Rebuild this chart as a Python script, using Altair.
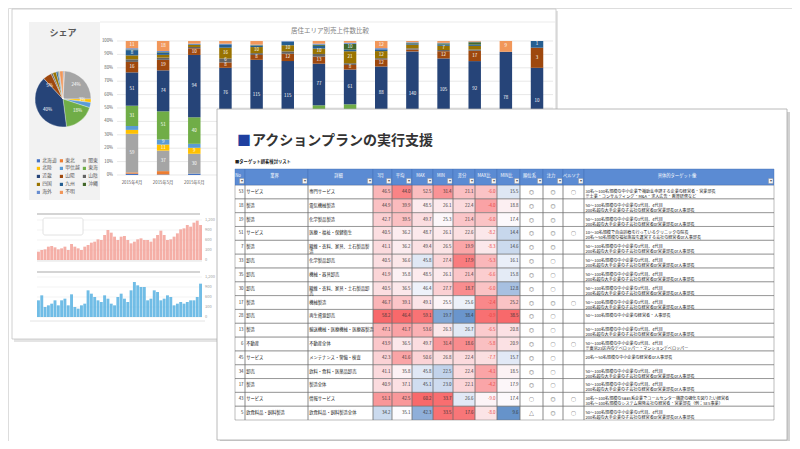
import altair as alt
import pandas as pd
import numpy as np

FONT = "Noto Sans CJK JP"

# ---------------- data ----------------
REGIONS = ["北海道", "東北", "関東", "北陸", "甲信越", "東海", "近畿",
           "山陽", "山陰", "四国", "九州", "沖縄", "海外", "不明"]
REGION_COLORS = ["#4472C4", "#ED7D31", "#A5A5A5", "#FFC000", "#5B9BD5", "#70AD47", "#264478",
                 "#9E480E", "#636363", "#997300", "#255E91", "#43682B", "#698ED0", "#F1975A"]
PIE_SHARE = [0.5, 0.5, 24, 2, 3, 18, 40, 5, 1, 2, 1, 0.5, 0.5, 2]

MONTHS = ["2015年4月", "2015年5月", "2015年6月", "2015年7月", "2015年8月", "2015年9月",
          "2015年10月", "2015年11月", "2015年12月", "2016年1月", "2016年2月", "2016年3月",
          "2016年4月", "2016年5月"]
SALES = {
    "2015年4月": [2, 2, 59, 6, 6, 31, 51, 16, 4, 6, 8, 1, 2, 11],
    "2015年5月": [1, 6, 37, 11, 9, 51, 74, 19, 4, 5, 4, 1, 2, 18],
    "2015年6月": [2, 0, 30, 9, 6, 40, 94, 10, 2, 3, 1, 0, 1, 4],
    "2015年7月": [2, 2, 36, 8, 6, 30, 76, 8, 6, 16, 5, 0, 1, 4],
    "2015年8月": [2, 2, 30, 6, 5, 30, 115, 8, 3, 10, 2, 1, 1, 6],
    "2015年9月": [2, 2, 28, 6, 5, 29, 115, 12, 4, 10, 6, 0, 1, 0],
    "2015年10月": [3, 3, 62, 8, 8, 45, 77, 13, 5, 10, 5, 2, 2, 5],
    "2015年11月": [3, 3, 62, 8, 8, 40, 61, 8, 3, 21, 3, 10, 2, 3],
    "2015年12月": [3, 3, 40, 8, 6, 35, 88, 12, 2, 12, 3, 0, 2, 12],
    "2016年1月": [2, 2, 25, 5, 4, 24, 140, 3, 2, 6, 2, 1, 1, 2],
    "2016年2月": [3, 3, 35, 7, 5, 36, 105, 12, 2, 7, 2, 2, 1, 3],
    "2016年3月": [3, 3, 38, 7, 6, 38, 92, 17, 2, 6, 2, 4, 1, 1],
    "2016年4月": [1, 0, 10, 2, 2, 10, 78, 0, 0, 0, 0, 0, 0, 9],
    "2016年5月": [0, 0, 3, 0, 0, 3, 10, 3, 0, 0, 1, 0, 0, 0],
}
PCT_TICKS = [0, 10, 20, 30, 40, 50, 60, 70, 80, 90, 100]

PINK = [25, 30, 32, 40, 42, 38, 32, 35, 40, 30, 48, 40, 35, 30, 40, 45, 52, 55, 62, 60,
        75, 90, 82, 70, 60, 70, 72, 60, 50, 55, 62, 65, 60, 60, 55, 65, 75, 88, 75, 60,
        62, 70, 80, 92, 95, 105, 100, 112, 118, 105]
BLUE = [50, 65, 30, 35, 40, 50, 35, 50, 55, 35, 68, 30, 25, 35, 40, 80, 70, 60, 50, 45,
        65, 55, 40, 35, 60, 70, 55, 45, 80, 105, 95, 90, 90, 50, 55, 80, 75, 50, 55, 65,
        60, 35, 40, 45, 40, 45, 50, 50, 60, 100]
SMALL_TICKS = [0, 30, 60, 90, 120]

COLS = ["No", "業界", "詳細", "3月", "平均", "MAX", "MIN", "差分", "MAX比", "MIN比",
        "順位系", "注力", "ペルソナ", "具体的ターゲット像"]
NO = [53, 18, 19, 51, 7, 33, 35, 30, 17, 28, 13, 6, 45, 34, 17, 43, 5]
INDUSTRY = ["サービス", "製造", "製造", "サービス", "製造", "卸売", "卸売", "卸売", "製造", "卸売",
            "製造", "不動産", "サービス", "卸売", "製造", "サービス", "飲食料品・飼料製造"]
DETAIL = ["専門サービス", "電気機械製造", "化学製品製造", "医療・福祉・保健衛生",
          "繊維・衣料、家具、土石製品製\n造", "化学製品卸売", "機械・器具卸売",
          "繊維・衣料、家具・土石製品卸\n売", "機械製造", "再生資源卸売",
          "輸送機械・医療機械・医療器製造", "不動産全体", "メンテナンス・警備・検査",
          "飲料・食料・医薬品卸売", "製造全体", "情報サービス", "飲食料品・飼料製造全体"]
MAR = [46.5, 44.9, 42.7, 40.5, 41.1, 40.5, 41.9, 40.5, 46.7, 58.2, 47.1, 43.9, 42.3, 41.1, 40.9, 51.1, 34.2]
AVG = [44.0, 39.9, 39.5, 36.2, 36.2, 36.6, 35.8, 36.5, 39.1, 46.4, 41.7, 36.5, 41.6, 35.8, 37.1, 42.5, 35.1]
MAXV = [52.5, 48.5, 49.7, 48.7, 49.4, 45.8, 48.5, 46.4, 49.1, 59.1, 53.6, 49.7, 50.6, 45.8, 45.1, 60.2, 42.3]
MINV = [31.4, 26.1, 25.3, 26.1, 26.5, 27.4, 26.1, 27.7, 25.5, 19.7, 26.3, 31.4, 26.8, 22.5, 23.0, 33.7, 33.5]
DIFF = [21.1, 22.4, 21.4, 22.6, 19.9, 17.9, 21.4, 18.7, 25.6, 38.4, 26.7, 18.6, 22.4, 22.4, 22.1, 26.6, 17.6]
MAXR = [-6.0, -4.0, -6.0, -8.2, -8.3, -5.3, -6.6, -6.0, -2.4, -0.9, -6.5, -5.8, -7.7, -4.1, -4.2, -9.0, -8.0]
MINR = [15.5, 18.8, 17.4, 14.4, 14.6, 16.1, 15.8, 12.8, 25.2, 38.5, 20.8, 20.9, 15.7, 18.5, 17.9, 17.4, 9.6]
RANK = ["◎"] * 15 + ["○", "△"]
FOCUS = ["◎", "◎", "◎", "◎", "◎", "○", "○", "○", "◎", "○", "○", "○", "○", "○", "○", "◎", "◎"]
PERSONA = ["○", "", "", "○", "", "", "", "", "○", "", "", "○", "", "", "", "○", "○"]
T_STD = "50～100名規模の中小企業の3代目、4代目\n200名超の大手企業の子会社の経営者or営業部長or人事部長"
TARGET = [
    "30名～100名規模の中小企業で補助金申請する企業の経営者・営業部長\n※士業・コンサルティング・M&A・求人広告・教育研修など",
    T_STD, T_STD,
    "10～30名規模で自由診療を行っているクリニックの院長\n20名～50名規模の福祉施設を運営する会社の経営者or人事部長",
    T_STD, T_STD, T_STD, T_STD, T_STD,
    "50～100名規模の中小企業の経営者・人事部長",
    T_STD,
    "50～100名規模の中小企業の3代目、4代目\n※東京23区内のデベロッパー・マンションデベロッパー",
    "20名～50名規模の中小企業の経営者or人事部長",
    T_STD, T_STD,
    "30名～100名規模のSaaS系企業でコールセンター機能の強化を図りたい経営者\n30名～100名規模のシステム開発会社の経営者・営業部長（例：SES事業）",
    T_STD,
]

# ---------------- layout / style ----------------
def P(v):
    return v - 8  # page pixel -> plot pixel

ONE = pd.DataFrame({"k": [0]})
VISIBLE_MONTHS = 3  # month labels not covered by the table screenshot
PIE_LABEL_MIN = 2.5  # smaller slices are too thin to carry a readable label


def box(x0, y0, x1, y1, **kw):
    return alt.Chart(ONE).mark_rect(**kw).encode(
        x=alt.value(P(x0)), x2=alt.value(P(x1)), y=alt.value(P(y0)), y2=alt.value(P(y1)))


def label(txt, x, y, **kw):
    kw.setdefault("font", FONT)
    return alt.Chart(ONE).mark_text(text=txt, **kw).encode(x=alt.value(P(x)), y=alt.value(P(y)))


def hline(x0, x1, y, color, w=1.0):
    return alt.Chart(ONE).mark_rule(color=color, strokeWidth=w).encode(
        x=alt.value(P(x0)), x2=alt.value(P(x1)), y=alt.value(P(y)))


layers = []

# dashboard panel
layers.append(box(14, 11, 558, 342, color="#E4E4E4"))
layers.append(box(12, 9, 556, 339, color="white", stroke="#C4C4C4", strokeWidth=0.8))
layers.append(box(29, 22, 100, 200, color="#F2F2F2"))
layers.append(hline(100, 556, 22, "#E6E6E6", 0.8))
layers.append(label("シェア", 63, 33, fontSize=9, fontWeight="bold", color="#595959", align="center", baseline="middle"))
layers.append(label("居住エリア別売上件数比較", 330, 31, fontSize=6.5, color="#7F7F7F", align="center", baseline="middle"))

# pie
pie_df = pd.DataFrame({"region": REGIONS, "share": PIE_SHARE, "ord": list(range(len(REGIONS)))})
pie_df["lbl"] = [f"{int(v + 0.5)}%" if v >= PIE_LABEL_MIN else "" for v in PIE_SHARE]
region_scale = alt.Scale(domain=REGIONS, range=REGION_COLORS)
pie = alt.Chart(pie_df).mark_arc(radius=28, stroke="white", strokeWidth=0.3).encode(
    theta=alt.Theta("share:Q", stack=True),
    order=alt.Order("ord:Q"),
    color=alt.Color("region:N", scale=region_scale,
                    legend=alt.Legend(title=None, orient="none", legendX=P(36), legendY=P(158),
                                      direction="horizontal", columns=3, symbolType="square",
                                      symbolSize=10, symbolStrokeWidth=0, labelFontSize=4.8,
                                      labelFont=FONT, labelColor="#595959", columnPadding=2,
                                      rowPadding=2, labelOffset=1.5, padding=0, labelLimit=40)),
    x=alt.value(P(63)), y=alt.value(P(99)))
pie_lbl = alt.Chart(pie_df).transform_filter("datum.lbl != ''").mark_text(
    radius=19, fontSize=4.5, color="white", font=FONT).encode(
    theta=alt.Theta("share:Q", stack=True),
    order=alt.Order("ord:Q"),
    text="lbl:N",
    x=alt.value(P(63)), y=alt.value(P(99)))
layers += [pie]

# stacked 100% bars
rows = []
for mi, m in enumerate(MONTHS):
    for i, r in enumerate(REGIONS):
        rows.append({"month": m, "mi": mi, "region": r, "count": SALES[m][i], "ridx": i})
bar_df = pd.DataFrame(rows)
xband = alt.Scale(domain=MONTHS, range=[P(116.4), P(552.6)], paddingInner=0.6, paddingOuter=0.3)
ypct = alt.Scale(domain=[0, 1], range=[P(175), P(41)], nice=False)
pct_df = pd.DataFrame({"p": [t / 100 for t in PCT_TICKS], "t": [f"{t}%" for t in PCT_TICKS]})

grid = alt.Chart(pct_df).mark_rule(color="#D9D9D9", strokeWidth=0.6).encode(
    y=alt.Y("p:Q", scale=ypct, axis=None), x=alt.value(P(117)), x2=alt.value(P(553)))
ylab = alt.Chart(pct_df).mark_text(fontSize=4.3, color="#595959", align="right", baseline="middle", font=FONT).encode(
    y=alt.Y("p:Q", scale=ypct, axis=None), x=alt.value(P(113)), text="t:N")
bars = alt.Chart(bar_df).mark_bar().encode(
    x=alt.X("month:N", sort=MONTHS, scale=xband, axis=None),
    y=alt.Y("count:Q", stack="normalize", scale=ypct, axis=None),
    color=alt.Color("region:N", scale=region_scale, legend=None),
    order=alt.Order("ridx:Q"))
# labels: segments hidden under the table screenshot (lower half of later months) are not drawn
bar_lbl = alt.Chart(bar_df).transform_stack(
    stack="count", groupby=["month"], as_=["s0", "s1"], offset="normalize",
    sort=[alt.SortField("ridx", order="ascending")]
).transform_calculate(
    mid="(datum.s0 + datum.s1) / 2", frac="datum.s1 - datum.s0"
).transform_filter(
    f"datum.frac >= 0.03 && (datum.mi < {VISIBLE_MONTHS} || datum.mid > 0.53)"
).mark_text(
    fontSize=4.5, color="white", font=FONT, baseline="middle").encode(
    x=alt.X("month:N", sort=MONTHS, scale=xband, axis=None),
    y=alt.Y("mid:Q", scale=ypct, axis=None),
    text="count:Q")
month_df = pd.DataFrame({"month": MONTHS, "mi": list(range(len(MONTHS)))})
xlab = alt.Chart(month_df).transform_filter(f"datum.mi < {VISIBLE_MONTHS}").mark_text(
    fontSize=4.3, color="#595959", font=FONT, baseline="middle").encode(
    x=alt.X("month:N", sort=MONTHS, scale=xband, axis=None), y=alt.value(P(183)), text="month:N")
layers += [pie_lbl, grid, ylab, bars, bar_lbl, xlab]


# small blurred bar charts (lower left)
def small_chart(values, base, color):
    df = pd.DataFrame({"i": list(range(len(values))), "v": values})
    ys = alt.Scale(domain=[0, 120], range=[P(base), P(base - 40)], nice=False)
    xs = alt.Scale(range=[P(37), P(202)], paddingInner=0.12, paddingOuter=0)
    tdf = pd.DataFrame({"v": SMALL_TICKS, "t": [f"{t * 10:,}" for t in SMALL_TICKS]})
    g = alt.Chart(tdf).mark_rule(color="#EBEBEB", strokeWidth=0.6).encode(
        y=alt.Y("v:Q", scale=ys, axis=None), x=alt.value(P(37)), x2=alt.value(P(202)))
    b = alt.Chart(df).mark_bar(color=color, opacity=0.85).encode(
        x=alt.X("i:O", scale=xs, axis=None), y=alt.Y("v:Q", scale=ys, axis=None))
    t = alt.Chart(tdf).mark_text(fontSize=4, color="#A0A0A0", align="left", baseline="middle", font=FONT).encode(
        y=alt.Y("v:Q", scale=ys, axis=None), x=alt.value(P(205)), text="t:N")
    return [g, b, t]


layers.append(hline(37, 200, 214, "#D4D4D4", 2))
layers += small_chart(PINK, 260, "#F3A198")
layers.append(hline(37, 202, 261, "#DDDDDD", 0.8))
layers.append(box(43, 218, 83, 235, color="white", stroke="#DADADA", strokeWidth=0.8, cornerRadius=2))
layers.append(hline(37, 200, 272, "#D4D4D4", 2))
layers += small_chart(BLUE, 317, "#58B2E2")
layers.append(hline(30, 205, 321, "#DDDDDD", 0.8))

# table panel
layers.append(box(220, 112, 790, 443, color="#D2D2D2"))
layers.append(box(217, 109, 787, 440, color="white", stroke="#A8A8A8", strokeWidth=0.8))
layers.append(label("■", 237, 141, fontSize=14, color="#1F3FA0", align="left", baseline="middle"))
layers.append(label("アクションプランの実行支援", 252, 141, fontSize=14, fontWeight="bold", color="#333333",
                    align="left", baseline="middle"))
layers.append(label("■ターゲット顧客検討リスト", 235, 162, fontSize=4.3, fontWeight="bold", color="#222222",
                    align="left", baseline="middle"))

COL_W = [10, 63, 65, 19, 20, 21, 20, 22, 22, 23, 23, 20, 21, 190]
edges = np.concatenate([[0], np.cumsum(COL_W)])
HDR = 16 / 13.82
NROW = len(NO)
tx = alt.Scale(domain=[0, float(edges[-1])], range=[P(235), P(774)], nice=False, zero=False)
ty = alt.Scale(domain=[-HDR, NROW], range=[P(169), P(420)], nice=False, zero=False)

HEAT = {  # column -> (values, breakpoints blue/white/red)
    "3月": (MAR, [30, 36, 58]),
    "平均": (AVG, [30, 35, 46]),
    "MAX": (MAXV, [40, 47, 60]),
    "MIN": (MINV, [18, 25, 34]),
    "差分": (DIFF, [40, 24, 17]),
    "MAX比": (MAXR, [-30, -9.5, -0.5]),
    "MIN比": (MINR, [9, 17, 38]),
}

cells = []
for r in range(NROW):
    for c, col in enumerate(COLS):
        d = {"r0": r, "r1": r + 1, "rm": r + 0.5, "x0": float(edges[c]), "x1": float(edges[c + 1]),
             "xm": float(edges[c] + edges[c + 1]) / 2, "col": col, "norm": None, "txt": ""}
        if col in HEAT:
            vals, bp = HEAT[col]
            v = vals[r]
            if bp[0] < bp[2]:
                d["norm"] = float(np.interp(v, bp, [0, 0.5, 1]))
            else:
                d["norm"] = float(np.interp(-v, [-b for b in bp], [0, 0.5, 1]))
            d["txt"] = f"{v:.1f}"
            d["kind"] = "neg" if col == "MAX比" else "num"
        elif col == "No":
            d["txt"], d["kind"] = str(NO[r]), "num"
        elif col == "業界":
            d["txt"], d["kind"] = INDUSTRY[r], "left"
        elif col == "詳細":
            d["txt"], d["kind"] = DETAIL[r], "left"
        elif col == "順位系":
            d["txt"], d["kind"] = RANK[r], "sym"
        elif col == "注力":
            d["txt"], d["kind"] = FOCUS[r], "sym"
        elif col == "ペルソナ":
            d["txt"], d["kind"] = PERSONA[r], "sym"
        else:
            d["txt"], d["kind"] = TARGET[r], "target"
        cells.append(d)
cell_df = pd.DataFrame(cells)
hdr_df = pd.DataFrame({"col": COLS, "x0": edges[:-1].astype(float), "x1": edges[1:].astype(float),
                       "xm": (edges[:-1] + edges[1:]) / 2.0})

X0 = alt.X("x0:Q", scale=tx, axis=None)
X1 = alt.X2("x1:Q")
heat = alt.Chart(cell_df).transform_filter("isValid(datum.norm)").mark_rect().encode(
    x=X0, x2=X1, y=alt.Y("r0:Q", scale=ty, axis=None), y2=alt.Y2("r1:Q"),
    color=alt.Color("norm:Q", scale=alt.Scale(domain=[0, 0.5, 1], range=["#5A8AC6", "#FCFCFF", "#F8696B"],
                                              interpolate="rgb"),
                    legend=None))
gridc = alt.Chart(cell_df).mark_rect(fillOpacity=0, stroke="#6E6E6E", strokeWidth=0.45).encode(
    x=X0, x2=X1, y=alt.Y("r0:Q", scale=ty, axis=None), y2=alt.Y2("r1:Q"))
hdr = alt.Chart(hdr_df).mark_rect(color="#5B8BD3", stroke="#3E6DB0", strokeWidth=0.4).encode(
    x=X0, x2=X1, y=alt.value(P(169)), y2=alt.value(P(185)))
hdr_txt = alt.Chart(hdr_df).mark_text(fontSize=4.3, color="white", font=FONT, baseline="middle", dx=-2).encode(
    x=alt.X("xm:Q", scale=tx, axis=None), y=alt.value(P(176)), text="col:N")
dd = alt.Chart(hdr_df).mark_rect(color="#F4F4F4", stroke="#8C8C8C", strokeWidth=0.4, xOffset=-5.5, x2Offset=-1).encode(
    x=alt.X("x1:Q", scale=tx, axis=None), x2=alt.X2("x1:Q"), y=alt.value(P(178.5)), y2=alt.value(P(183.5)))
dd_arrow = alt.Chart(hdr_df).mark_text(text="▾", fontSize=4, color="#555555", dx=-3.3, baseline="middle").encode(
    x=alt.X("x1:Q", scale=tx, axis=None), y=alt.value(P(181.2)))
layers += [heat, gridc, hdr, hdr_txt, dd, dd_arrow]

YM = alt.Y("rm:Q", scale=ty, axis=None)
t_num = alt.Chart(cell_df).transform_filter("datum.kind == 'num'").mark_text(
    fontSize=4.4, color="#333333", align="right", baseline="middle", dx=-1.5, font=FONT).encode(
    x=alt.X("x1:Q", scale=tx, axis=None), y=YM, text="txt:N")
t_neg = alt.Chart(cell_df).transform_filter("datum.kind == 'neg'").mark_text(
    fontSize=4.4, color="#E8413C", align="right", baseline="middle", dx=-1.5, font=FONT).encode(
    x=alt.X("x1:Q", scale=tx, axis=None), y=YM, text="txt:N")
t_left = alt.Chart(cell_df).transform_filter("datum.kind == 'left'").mark_text(
    fontSize=4.3, color="#222222", align="left", baseline="middle", dx=1.2, lineBreak="\n", lineHeight=5.2,
    font=FONT).encode(x=alt.X("x0:Q", scale=tx, axis=None), y=YM, text="txt:N")
t_sym = alt.Chart(cell_df).transform_filter("datum.kind == 'sym'").mark_text(
    fontSize=5, color="#333333", align="center", baseline="middle", font=FONT).encode(
    x=alt.X("xm:Q", scale=tx, axis=None), y=YM, text="txt:N")
t_tgt = alt.Chart(cell_df).transform_filter("datum.kind == 'target'").mark_text(
    fontSize=4.1, color="#222222", align="left", baseline="middle", dx=1.5, lineBreak="\n", lineHeight=5,
    font=FONT).encode(x=alt.X("x0:Q", scale=tx, axis=None), y=YM, text="txt:N")
layers += [t_num, t_neg, t_left, t_sym, t_tgt]

chart = alt.layer(*layers).resolve_scale(
    x="independent", y="independent", color="independent"
).properties(
    width=784, height=433, autosize=alt.AutoSizeParams(type="none"), padding=0
).configure_view(strokeWidth=0).configure(background="white")

chart.save("out.html", embed_options={"renderer": "svg", "actions": False})
